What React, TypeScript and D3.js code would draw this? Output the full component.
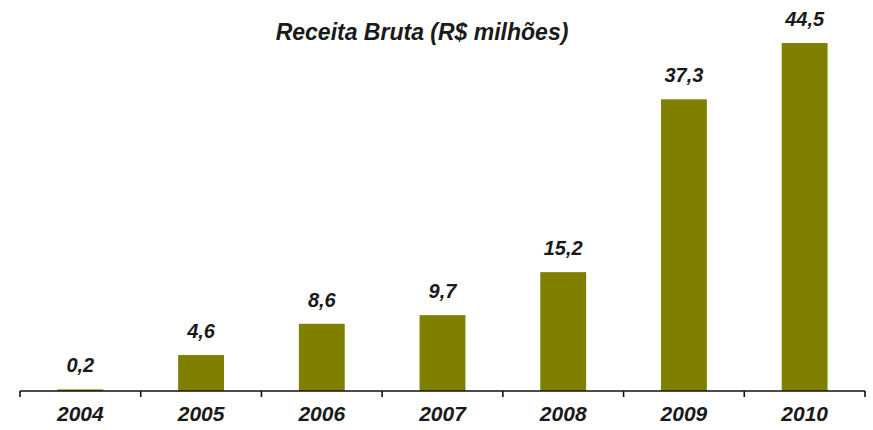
import { useEffect, useRef } from "react";
import * as d3 from "d3";

const years = ["2004", "2005", "2006", "2007", "2008", "2009", "2010"];
const receita = [0.2, 4.6, 8.6, 9.7, 15.2, 37.3, 44.5];
const valueLabels = ["0,2", "4,6", "8,6", "9,7", "15,2", "37,3", "44,5"];
const title = "Receita Bruta (R$ milhões)";

const width = 873, height = 430;
const margin = { top: 0, right: 8, bottom: 39, left: 20 };
const barColor = "#7f7f00";
const font = "'Liberation Sans', Arial, sans-serif";

const App = () => {
  const chartRef = useRef(null);

  useEffect(() => {
    const svg = d3
      .select(chartRef.current)
      .append("svg")
      .attr("width", width)
      .attr("height", height)
      .attr("viewBox", [0, 0, width, height])
      .style("display", "block")
      .style("background", "#fff");

    const x = d3.scaleBand()
      .domain(years)
      .range([margin.left, width - margin.right])
      .padding(0);

    const y = d3.scaleLinear()
      .domain([0, 50])
      .range([height - margin.bottom, margin.top]);

    const barW = x.step() * 0.38;
    const data = years.map((yr, i) => ({ yr, v: receita[i], label: valueLabels[i] }));

    // bars
    svg.append("g")
      .attr("fill", barColor)
      .selectAll("rect")
      .data(data)
      .join("rect")
        .attr("x", d => (x(d.yr) as number) + x.bandwidth() / 2 - barW / 2)
        .attr("y", d => y(d.v))
        .attr("width", barW)
        .attr("height", d => y(0) - y(d.v));

    // value labels
    svg.append("g")
      .selectAll("text")
      .data(data)
      .join("text")
        .attr("x", d => (x(d.yr) as number) + x.bandwidth() / 2)
        .attr("y", d => y(d.v) - 17)
        .attr("text-anchor", "middle")
        .style("font-family", font)
        .style("font-size", "20px")
        .style("font-weight", "bold")
        .style("font-style", "italic")
        .style("fill", "#1a1a1a")
        .text(d => d.label);

    // x axis: line with ticks at band edges
    const axis = svg.append("g").attr("stroke", "#111").attr("stroke-width", 1.6);
    axis.append("line")
      .attr("x1", x.range()[0]).attr("x2", x.range()[1])
      .attr("y1", y(0)).attr("y2", y(0));
    const edges = years.map(yr => x(yr) as number).concat([x.range()[1]]);
    axis.selectAll("line.tick")
      .data(edges)
      .join("line")
        .attr("class", "tick")
        .attr("x1", d => d).attr("x2", d => d)
        .attr("y1", y(0)).attr("y2", y(0) + 6);

    svg.append("g")
      .selectAll("text")
      .data(years)
      .join("text")
        .attr("x", d => (x(d) as number) + x.bandwidth() / 2)
        .attr("y", y(0) + 30)
        .attr("text-anchor", "middle")
        .style("font-family", font)
        .style("font-size", "21px")
        .style("font-weight", "bold")
        .style("font-style", "italic")
        .style("fill", "#1a1a1a")
        .text(d => d);

    // title
    svg.append("text")
      .attr("x", 422)
      .attr("y", 40)
      .attr("text-anchor", "middle")
      .style("font-family", font)
      .style("font-size", "23px")
      .style("font-weight", "bold")
      .style("font-style", "italic")
      .style("fill", "#1a1a1a")
      .text(title);

    return () => {
      d3.select(chartRef.current).select("svg").remove();
    };
  }, []);

  return <div ref={chartRef} style={{ position: "fixed", left: 0, top: 0 }}></div>;
};

export default App;
